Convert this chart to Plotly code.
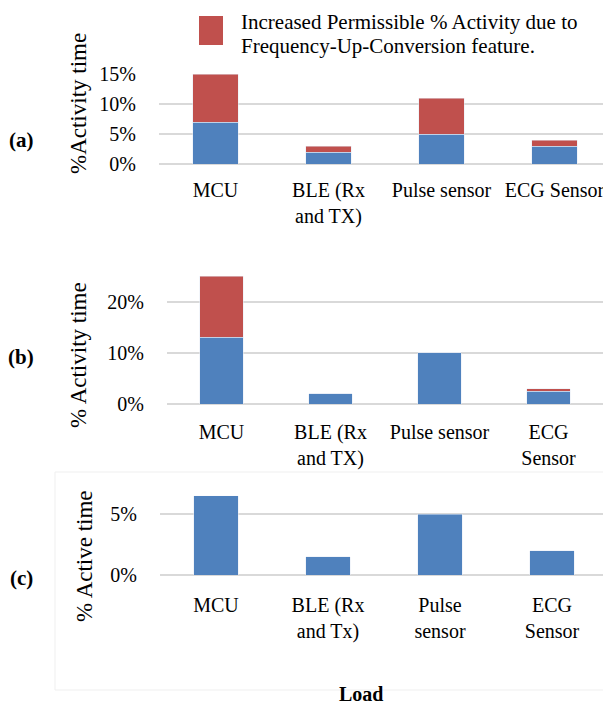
import plotly.graph_objects as go

# the page body adds an 8px offset; compensate so screen positions match
OX, OY = 8, 8
W, H = 611 - OX, 707 - OY

# ---- data ----
cats_a = ["MCU", "BLE (Rx<br>and TX)", "Pulse sensor", "ECG Sensor"]
base_a = [0.07, 0.02, 0.05, 0.03]
extra_a = [0.08, 0.01, 0.06, 0.01]

cats_b = ["MCU", "BLE (Rx<br>and TX)", "Pulse sensor", "ECG<br>Sensor"]
base_b = [0.13, 0.02, 0.10, 0.025]
extra_b = [0.12, 0.0, 0.0, 0.005]

cats_c = ["MCU", "BLE (Rx<br>and Tx)", "Pulse<br>sensor", "ECG<br>Sensor"]
active_c = [0.065, 0.015, 0.05, 0.02]

legend_lines = ["Increased Permissible % Activity due to",
                "Frequency-Up-Conversion feature."]

BLUE = "#4f81bd"
RED = "#c0504d"
GRID = "#d9d9d9"
FONT = "Liberation Serif"


def px(x):
    return (x - OX) / W


def py(y):
    return 1 - (y - OY) / H


fig = go.Figure()

fig.add_trace(go.Bar(x=cats_a, y=base_a, marker_color=BLUE, xaxis="x", yaxis="y", showlegend=False))
fig.add_trace(go.Bar(x=cats_a, y=extra_a, marker_color=RED, xaxis="x", yaxis="y", showlegend=False))
fig.add_trace(go.Bar(x=cats_b, y=base_b, marker_color=BLUE, xaxis="x2", yaxis="y2", showlegend=False))
fig.add_trace(go.Bar(x=cats_b, y=extra_b, marker_color=RED, xaxis="x2", yaxis="y2", showlegend=False))
fig.add_trace(go.Bar(x=cats_c, y=active_c, marker_color=BLUE, xaxis="x3", yaxis="y3", showlegend=False))

tickfont = dict(family=FONT, size=20, color="#000000")


def xax(dom, anchor, tl):
    return dict(domain=dom, anchor=anchor, type="category", showgrid=False, showline=False,
                zeroline=False, ticks="outside", ticklen=tl, tickcolor="rgba(0,0,0,0)",
                tickfont=tickfont, fixedrange=True, automargin=False)


def yax(dom, anchor, rng, dt):
    return dict(domain=dom, anchor=anchor, range=rng, dtick=dt, tickformat=".0%",
                showgrid=True, gridcolor=GRID, gridwidth=1.5, zeroline=True, zerolinecolor=GRID,
                zerolinewidth=1.5, showline=False, ticks="outside", ticklen=18,
                tickcolor="rgba(0,0,0,0)", tickfont=tickfont, fixedrange=True, automargin=False)


fig.update_layout(
    width=W, height=H,
    margin=dict(l=0, r=0, t=0, b=0, pad=0, autoexpand=False),
    paper_bgcolor="white", plot_bgcolor="white",
    barmode="stack", bargap=0.6,
    font=dict(family=FONT, color="#000000"),
    xaxis=xax([px(159), px(611)], "y", 8),
    yaxis=yax([py(164), py(74)], "x", [0, 0.15], 0.05),
    xaxis2=xax([px(167), px(603)], "y2", 10),
    yaxis2=yax([py(404), py(276)], "x2", [0, 0.25], 0.10),
    xaxis3=xax([px(160), px(608)], "y3", 12),
    yaxis3=yax([py(575), py(495.7)], "x3", [0, 0.065], 0.05),
)

ann = []
for txt, x, y in [("%Activity time", 78, 104), ("% Activity time", 78, 355), ("% Active time", 84, 556)]:
    ann.append(dict(text=txt, x=px(x), y=py(y), xref="paper", yref="paper", showarrow=False,
                    textangle=-90, xanchor="center", yanchor="middle",
                    font=dict(family=FONT, size=23, color="#000000")))
for txt, y in [("(a)", 140), ("(b)", 357), ("(c)", 578)]:
    ann.append(dict(text="<b>%s</b>" % txt, x=px(21), y=py(y), xref="paper", yref="paper",
                    showarrow=False, xanchor="center", yanchor="middle",
                    font=dict(family=FONT, size=21, color="#000000")))
for txt, y in zip(legend_lines, [22, 46]):
    ann.append(dict(text=txt, x=px(239), y=py(y), xref="paper", yref="paper", showarrow=False,
                    xanchor="left", yanchor="middle", font=dict(family=FONT, size=21, color="#000000")))
ann.append(dict(text="<b>Load</b>", x=px(361), y=py(694), xref="paper", yref="paper",
                showarrow=False, xanchor="center", yanchor="middle",
                font=dict(family=FONT, size=20, color="#000000")))
fig.update_layout(annotations=ann)

shapes = [
    dict(type="rect", xref="paper", yref="paper", x0=px(199), x1=px(223), y0=py(45), y1=py(16),
         fillcolor=RED, line=dict(width=0)),
    dict(type="rect", xref="paper", yref="paper", x0=px(55), x1=px(615), y0=py(690), y1=py(472),
         fillcolor="rgba(0,0,0,0)", line=dict(color="#efefef", width=1), layer="below"),
    dict(type="line", xref="paper", yref="paper", x0=px(57), x1=px(222), y0=py(6), y1=py(6),
         line=dict(color="#f0f0f0", width=1)),
]
fig.update_layout(shapes=shapes)

fig.write_html("out.html")
